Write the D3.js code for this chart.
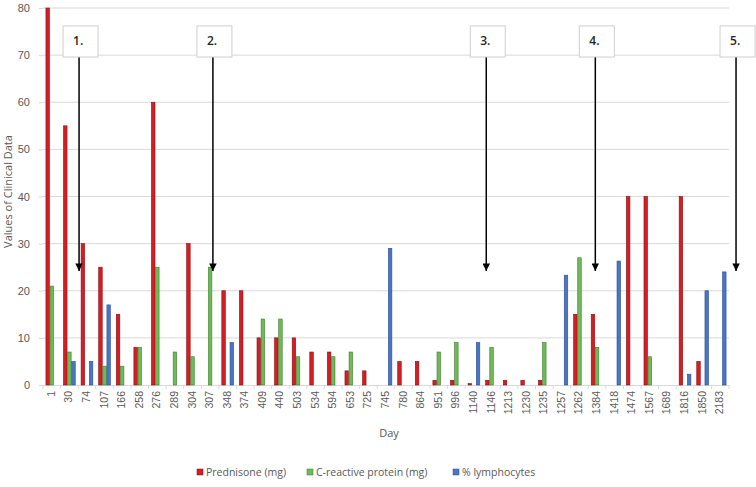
<!DOCTYPE html>
<html><head><meta charset="utf-8">
<script src="https://cdn.jsdelivr.net/npm/d3@7"></script>
<style>body{margin:0;background:#fff;}svg{display:block;font-family:"Open Sans",sans-serif;}</style>
</head><body><div id="chart"></div>
<script>
const days = ["1","30","74","107","166","258","276","289","304","307","348","374","409","440","503","534","594","653","725","745","780","864","951","996","1140","1146","1213","1230","1235","1257","1262","1384","1418","1474","1567","1689","1816","1850","2183"];
const prednisone = [80,55,30,25,15,8,60,null,30,null,20,20,10,10,10,7,7,3,3,null,5,5,1,1,0.3,1,1,1,1,null,15,15,null,40,40,null,40,5,null];
const crp = [21,7,null,4,4,8,25,7,6,25,null,null,14,14,6,null,6,7,null,null,null,null,7,9,null,8,null,null,9,null,27,8,null,null,6,null,null,null,null];
const lymph = [null,5,5,17,null,null,null,null,null,null,9,null,null,null,null,null,null,null,null,29,null,null,null,null,9,null,null,null,null,23.3,null,null,26.3,null,null,null,2.3,20,24];
const seriesNames = ["Prednisone (mg)","C-reactive protein (mg)","% lymphocytes"];
const yTicks = [0,10,20,30,40,50,60,70,80];
const annotLabels = ["1.","2.","3.","4.","5."];
const annotAt = [2.05,9.66,25.2,31.4,39.4];

const W=756,H=487, L=43, R=729, T=8, B=385;
const fills=["#d41e24","#6dbb58","#4a74c6"];
const strokes=["#8e0c10","#3f7d2e","#2b4f93"];
const svg=d3.select("#chart").append("svg").attr("width",W).attr("height",H);

const x0=d3.scaleBand().domain(days).range([L,R]).paddingInner(0.3).paddingOuter(0.15);
const x1=d3.scaleBand().domain([0,1,2]).range([0,x0.bandwidth()]);
const y=d3.scaleLinear().domain([0,80]).range([B,T]);
const xi=d3.scaleLinear().domain([0,days.length]).range([L,R]);

// gridlines
svg.append("g").selectAll("line").data(yTicks.filter(t=>t>0)).join("line")
 .attr("x1",L).attr("x2",R).attr("y1",d=>y(d)).attr("y2",d=>y(d))
 .attr("stroke","#d9d9d9").attr("stroke-width",1);

// y axis
const ya=svg.append("g").attr("transform",`translate(${L},0)`)
 .call(d3.axisLeft(y).tickValues(yTicks).tickSize(4).tickPadding(9));
ya.select(".domain").remove();
ya.selectAll("line").attr("stroke","#d9d9d9");
ya.selectAll("text").attr("fill","#595959").style("font-size","11px");

// x axis
const xa=svg.append("g").attr("transform",`translate(0,${B})`)
 .call(d3.axisBottom(x0).tickSize(0).tickPadding(0));
xa.select(".domain").attr("stroke","#d9d9d9");
xa.selectAll("text").attr("fill","#595959").style("font-size","10.5px")
 .attr("text-anchor","end").attr("transform","translate(3,6) rotate(-90)").attr("dy","0");
// category boundary ticks
svg.append("g").selectAll("line").data(d3.range(days.length+1)).join("line")
 .attr("x1",d=>xi(d)).attr("x2",d=>xi(d)).attr("y1",B).attr("y2",B+4).attr("stroke","#d9d9d9");

// bars
const series=[prednisone,crp,lymph];
series.forEach((vals,s)=>{
  svg.append("g").selectAll("rect").data(vals.map((v,i)=>({v,i})).filter(d=>d.v!=null)).join("rect")
   .attr("x",d=>x0(days[d.i])+x1(s)+0.3)
   .attr("width",x1.bandwidth()-0.6)
   .attr("y",d=>y(d.v))
   .attr("height",d=>B-y(d.v))
   .attr("fill",fills[s]).attr("stroke",strokes[s]).attr("stroke-width",0.6);
});

// axis labels
svg.append("text").attr("x",(L+R)/2+3).attr("y",437).attr("text-anchor","middle")
 .attr("fill","#595959").style("font-size","11px").text("Day");
svg.append("text").attr("transform",`translate(12,${(T+B)/2-5}) rotate(-90)`).attr("text-anchor","middle")
 .attr("fill","#595959").style("font-size","11px").text("Values of Clinical Data");

// legend
const legX=[197,307,453];
const lg=svg.append("g");
seriesNames.forEach((n,i)=>{
  lg.append("rect").attr("x",legX[i]).attr("y",469).attr("width",6).attr("height",6)
   .attr("fill",fills[i]).attr("stroke",strokes[i]).attr("stroke-width",0.5);
  lg.append("text").attr("x",legX[i]+9).attr("y",475.5).attr("fill","#595959").style("font-size","10.5px").text(n);
});

// annotations
const defs=svg.append("defs");
defs.append("marker").attr("id","ah").attr("viewBox","0 0 10 10").attr("refX",10).attr("refY",5)
 .attr("markerWidth",5).attr("markerHeight",5).attr("orient","auto").attr("markerUnits","strokeWidth")
 .append("path").attr("d","M0,0L10,5L0,10z").attr("fill","#000");
annotLabels.forEach((lab,i)=>{
  const ax=xi(annotAt[i]);
  const g=svg.append("g");
  g.append("line").attr("x1",ax).attr("x2",ax).attr("y1",y(69.6)).attr("y2",y(24.2))
   .attr("stroke","#000").attr("stroke-width",1.5).attr("marker-end","url(#ah)");
  g.append("rect").attr("x",ax-16).attr("y",y(76.2)).attr("width",35).attr("height",y(69.6)-y(76.2))
   .attr("fill","#fff").attr("stroke","#cfcfcf").attr("stroke-width",1);
  g.append("text").attr("x",ax-6).attr("y",y(72.9)+4).attr("fill","#262626")
   .style("font-size","12px").style("font-weight","600").text(lab);
});
</script></body></html>
